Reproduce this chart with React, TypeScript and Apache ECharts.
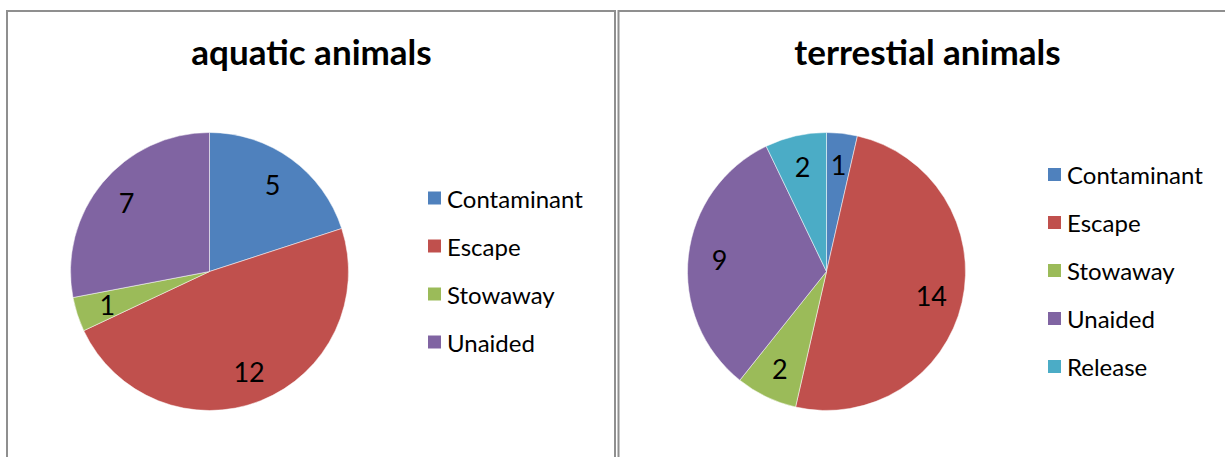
import React, { useEffect, useRef } from "react";
import * as echarts from "echarts";

const aquaticCategories = ["Contaminant", "Escape", "Stowaway", "Unaided"];
const aquaticValues = [5, 12, 1, 7];
const terrestialCategories = ["Contaminant", "Escape", "Stowaway", "Unaided", "Release"];
const terrestialValues = [1, 14, 2, 9, 2];
const titles = ["aquatic animals", "terrestial animals"];

const colorMap: Record<string, string> = {
  Contaminant: "#4F81BD",
  Escape: "#C0504D",
  Stowaway: "#9BBB59",
  Unaided: "#8064A2",
  Release: "#4BACC6",
};

const FONT = "Lato";

function buildData(cats: string[], vals: number[], transparent: boolean) {
  return cats.map((c, i) => ({
    name: c,
    value: vals[i],
    itemStyle: transparent
      ? { color: "rgba(0,0,0,0)", borderWidth: 0 }
      : { color: colorMap[c], borderColor: "#ffffff", borderWidth: 0.5 },
  }));
}

export default function App() {
  const ref = useRef<HTMLDivElement>(null);
  useEffect(() => {
    if (!ref.current) return;
    const chart = echarts.init(ref.current, null, { renderer: "svg" });
    const R = 139;
    const inner = 70;
    const leftCenter = [209.5, 271.5];
    const rightCenter = [826.5, 271.5];
    const legendText = { fontFamily: FONT, fontSize: 24, color: "#000" };
    const titleStyle = { fontFamily: FONT, fontWeight: "bold", fontSize: 35, color: "#000" };
    const labelStyle = {
      show: true,
      position: "inside",
      formatter: "{c}",
      fontFamily: FONT,
      fontSize: 27,
      color: "#000",
    };
    chart.setOption({
      animation: false,
      backgroundColor: "#ffffff",
      title: [
        { text: titles[0], left: 311.5, top: 33, padding: 0, textAlign: "center", textStyle: titleStyle },
        { text: titles[1], left: 927.5, top: 33, padding: 0, textAlign: "center", textStyle: titleStyle },
      ],
      legend: [
        {
          orient: "vertical",
          left: 426,
          top: 186,
          padding: 0,
          itemWidth: 15,
          itemHeight: 15,
          itemGap: 24,
          icon: "rect",
          selectedMode: false,
          data: aquaticCategories,
          textStyle: legendText,
        },
        {
          orient: "vertical",
          left: 1046,
          top: 162.5,
          padding: 0,
          itemWidth: 15,
          itemHeight: 15,
          itemGap: 24,
          icon: "rect",
          selectedMode: false,
          data: terrestialCategories,
          textStyle: legendText,
        },
      ],
      graphic: [
        {
          type: "rect",
          shape: { x: 7, y: 11, width: 608, height: 520 },
          style: { fill: "none", stroke: "#8f8f8f", lineWidth: 2 },
          silent: true,
        },
        {
          type: "rect",
          shape: { x: 618.5, y: 11, width: 700, height: 520 },
          style: { fill: "none", stroke: "#8f8f8f", lineWidth: 2 },
          silent: true,
        },
      ],
      series: [
        {
          type: "pie",
          center: leftCenter,
          radius: [0, R],
          startAngle: 90,
          clockwise: true,
          label: { show: false },
          labelLine: { show: false },
          emphasis: { disabled: true },
          data: buildData(aquaticCategories, aquaticValues, false),
        },
        {
          type: "pie",
          center: rightCenter,
          radius: [0, R],
          startAngle: 90,
          clockwise: true,
          label: { show: false },
          labelLine: { show: false },
          emphasis: { disabled: true },
          data: buildData(terrestialCategories, terrestialValues, false),
        },
        {
          type: "pie",
          center: leftCenter,
          radius: [inner, R],
          startAngle: 90,
          clockwise: true,
          silent: true,
          label: labelStyle,
          labelLine: { show: false },
          emphasis: { disabled: true },
          data: buildData(aquaticCategories, aquaticValues, true),
        },
        {
          type: "pie",
          center: rightCenter,
          radius: [inner, R],
          startAngle: 90,
          clockwise: true,
          silent: true,
          label: labelStyle,
          labelLine: { show: false },
          emphasis: { disabled: true },
          data: buildData(terrestialCategories, terrestialValues, true),
        },
      ],
    });
    return () => chart.dispose();
  }, []);
  return (
    <div
      ref={ref}
      style={{ position: "absolute", left: 0, top: 0, width: 1225, height: 457, background: "#fff" }}
    />
  );
}
